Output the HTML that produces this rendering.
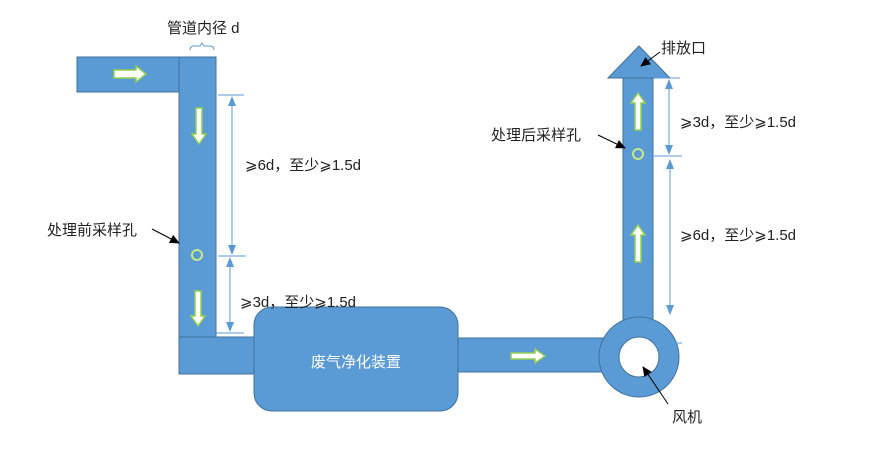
<!DOCTYPE html>
<html><head><meta charset="utf-8"><style>
body{margin:0;background:#fff;}
text{font-family:"Liberation Sans","Noto Sans CJK SC",sans-serif;font-size:15px;fill:#222;}
</style></head><body>
<svg width="893" height="454" viewBox="0 0 893 454" xmlns="http://www.w3.org/2000/svg">
<defs>
<marker id="a" markerWidth="10" markerHeight="8" refX="9" refY="4" orient="auto-start-reverse" markerUnits="userSpaceOnUse"><path d="M0,0 L10,4 L0,8 z" fill="#5b9bd5"/></marker>
<marker id="k" markerWidth="10" markerHeight="9" refX="9" refY="4.5" orient="auto" markerUnits="userSpaceOnUse"><path d="M0,0 L10,4.5 L0,9 z" fill="#000"/></marker>
</defs>
<g fill="#5b9bd5" stroke="#41719c" stroke-width="1">
<rect x="77" y="57" width="103" height="35"/>
<rect x="179" y="57" width="37" height="317"/>
<rect x="179" y="337" width="80" height="37"/>
<rect x="454" y="338" width="160" height="34"/>
<rect x="623" y="76" width="30" height="250"/>
<path d="M608,78 L639,46 L670,78 Z"/>
<rect x="254" y="307" width="204" height="104" rx="18"/>
<circle cx="639" cy="357" r="40"/>
</g>
<rect x="180" y="58" width="35" height="34" fill="#5b9bd5"/>
<rect x="180" y="338" width="35" height="35" fill="#5b9bd5"/>
<circle cx="639" cy="357" r="20" fill="#fff" stroke="#41719c"/>
<path d="M190,50 q0,-4 4,-4 h6 l2,-3 l2,3 h6 q4,0 4,4" fill="none" stroke="#5b9bd5"/>
<g fill="#fff" stroke="#92d050" stroke-width="1.5">
<path d="M114,70 h22 v-4 l10,8 l-10,8 v-4 h-22 z"/>
<path d="M511,353 h24 v-4 l10,7 l-10,7 v-4 h-24 z"/>
<path d="M196,108 h6 v26 h4 l-7,10 l-7,-10 h4 z"/>
<path d="M195,291 h6 v25 h4 l-7,10 l-7,-10 h4 z"/>
<path d="M635,130 h6 v-27 h4 l-7,-10 l-7,10 h4 z"/>
<path d="M635,262 h6 v-27 h4 l-7,-10 l-7,10 h4 z"/>
</g>
<circle cx="197" cy="255" r="5" fill="none" stroke="#c5e88a" stroke-width="2"/>
<circle cx="638" cy="154" r="5" fill="none" stroke="#c5e88a" stroke-width="2"/>
<g stroke="#5b9bd5" stroke-width="1" fill="none">
<line x1="218" y1="95" x2="244" y2="95"/>
<line x1="218" y1="256" x2="246" y2="256"/>
<line x1="216" y1="333" x2="244" y2="333"/>
<line x1="232" y1="97" x2="232" y2="254" marker-start="url(#a)" marker-end="url(#a)"/>
<line x1="230" y1="258" x2="230" y2="331" marker-start="url(#a)" marker-end="url(#a)"/>
<line x1="654" y1="78" x2="680" y2="78"/>
<line x1="654" y1="156" x2="682" y2="156"/>
<line x1="654" y1="343" x2="682" y2="343"/>
<line x1="669" y1="80" x2="669" y2="154" marker-start="url(#a)" marker-end="url(#a)"/>
<line x1="670" y1="160" x2="670" y2="314" marker-start="url(#a)" marker-end="url(#a)"/>
</g>
<g stroke="#000" stroke-width="1" fill="none">
<line x1="152" y1="229" x2="179" y2="243" marker-end="url(#k)"/>
<line x1="598" y1="135" x2="625" y2="148" marker-end="url(#k)"/>
<line x1="660" y1="52" x2="641" y2="66" marker-end="url(#k)"/>
<line x1="668" y1="404" x2="643" y2="367" marker-end="url(#k)"/>
</g>
<text x="167" y="33">管道内径 d</text>
<text x="245" y="170">⩾6d，至少⩾1.5d</text>
<text x="47" y="235">处理前采样孔</text>
<text x="240" y="307">⩾3d，至少⩾1.5d</text>
<text x="356" y="367" text-anchor="middle" style="fill:#fff">废气净化装置</text>
<text x="661" y="53">排放口</text>
<text x="491" y="140">处理后采样孔</text>
<text x="680" y="127">⩾3d，至少⩾1.5d</text>
<text x="680" y="240">⩾6d，至少⩾1.5d</text>
<text x="672" y="422">风机</text>
</svg>
</body></html>
